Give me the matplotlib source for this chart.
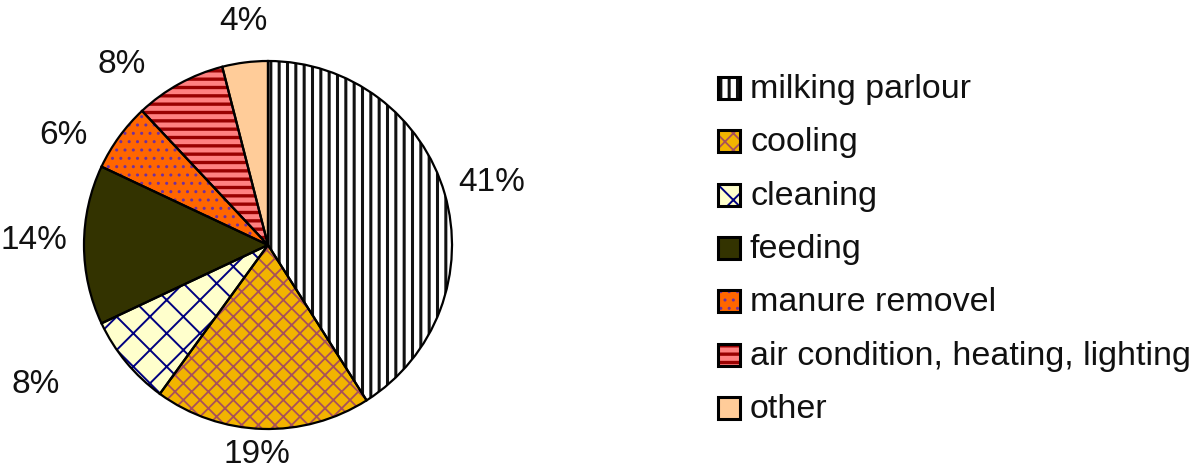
import numpy as np
import matplotlib
matplotlib.use("Agg")
import matplotlib.pyplot as plt
from matplotlib.patches import Rectangle

categories = ["milking parlour", "cooling", "cleaning", "feeding",
              "manure removel", "air condition, heating, lighting", "other"]
values = [41, 19, 8, 14, 6, 8, 4]
pct_labels = ["41%", "19%", "8%", "14%", "6%", "8%", "4%"]

faces = ["#ffffff", "#f2b400", "#ffffcc", "#333300", "#ff6600", "#ff8080", "#ffcc99"]
hatch_cols = ["#111111", "#a8505a", "#000080", "#333300", "#7030a0", "#990000", "#ffcc99"]
hatches = ["||", "xx", "x", None, "..", "--", None]
hatch_lw = [2.2, 1.3, 1.4, 1.0, 1.0, 2.4, 1.0]
# label placement style: (radius factor, angle offset in degrees)
lab_r = [1.26, 1.14, 1.47, 1.27, 1.26, 1.26, 1.22]
lab_off = [-0.5, -1.2, -8.6, -1.2, 7.7, 10.2, -0.8]

plt.rcParams['font.family'] = ['Liberation Sans', 'DejaVu Sans']
plt.rcParams['hatch.linewidth'] = 2.2

W, H = 1197, 473
fig = plt.figure(figsize=(W / 100, H / 100), dpi=100)
fig.patch.set_facecolor("white")


def set_hlw(p, lw):
    if hasattr(p, "set_hatch_linewidth"):
        p.set_hatch_linewidth(lw)
    else:
        p._hatch_linewidth = lw


cx, cy, R = 268, 245, 184
ax = fig.add_axes([(cx - R) / W, (H - cy - R) / H, 2 * R / W, 2 * R / H])

wedges, _ = ax.pie(values, startangle=90, counterclock=False, radius=1,
                   colors=faces, wedgeprops=dict(linewidth=0))
for w, hc, h, lw in zip(wedges, hatch_cols, hatches, hatch_lw):
    w.set_edgecolor(hc)
    w.set_linewidth(0)
    if h:
        w.set_hatch(h)
        set_hlw(w, lw)
# outlines
ax.pie(values, startangle=90, counterclock=False, radius=1,
       wedgeprops=dict(fill=False, edgecolor="black", linewidth=1.6))

for w, txt, r, off in zip(wedges, pct_labels, lab_r, lab_off):
    ang = np.deg2rad((w.theta1 + w.theta2) / 2 + off)
    ax.text(r * np.cos(ang), r * np.sin(ang), txt, ha="center", va="center",
            fontsize=24, color="#111111")

ax.set_xlim(-1, 1)
ax.set_ylim(-1, 1)
ax.set_aspect("equal")
ax.axis("off")

# legend
row0, step = 88, 53.3
for i, (lab, fc, hc, h, lw) in enumerate(zip(categories, faces, hatch_cols, hatches, hatch_lw)):
    yc = row0 + i * step
    box = 22
    bg = Rectangle((718 / W, (H - yc - box / 2) / H), box / W, box / H,
                   transform=fig.transFigure, facecolor=fc, edgecolor=hc,
                   linewidth=0, hatch=h)
    set_hlw(bg, lw)
    fig.add_artist(bg)
    fr = Rectangle((718 / W, (H - yc - box / 2) / H), box / W, box / H,
                   transform=fig.transFigure, fill=False, edgecolor="black",
                   linewidth=2.2)
    fig.add_artist(fr)
    fig.text(750 / W, (H - yc - 10) / H, lab, ha="left", va="baseline",
             fontsize=24.5, color="#111111")

fig.savefig("out.png", dpi=100, facecolor="white")
